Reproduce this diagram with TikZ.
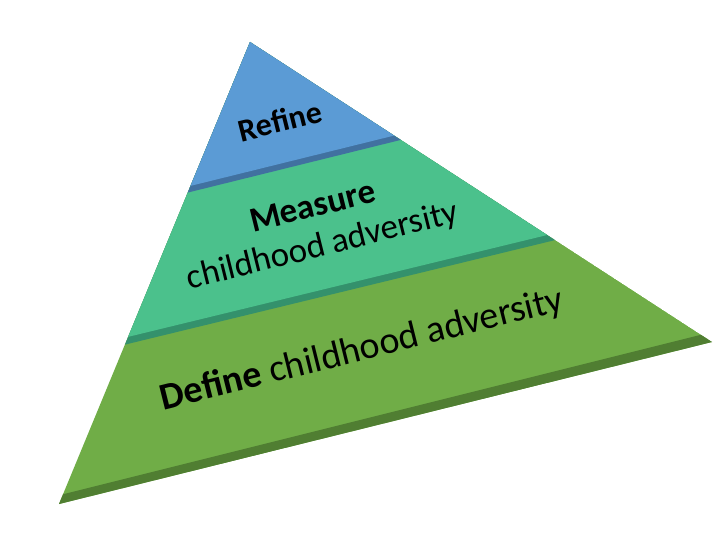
\documentclass[tikz,border=0pt]{standalone}
\usepackage{fontspec}
\setmainfont{Carlito}
\begin{document}
\begin{tikzpicture}[x=1pt,y=-1pt,
  lbl/.style={inner sep=0pt,rotate=14,text=black,align=center}]
\definecolor{cblue}{RGB}{91,155,213}
\definecolor{cblued}{RGB}{65,113,160}
\definecolor{cteal}{RGB}{75,193,140}
\definecolor{cteald}{RGB}{52,145,108}
\definecolor{cgreen}{RGB}{112,173,71}
\definecolor{cgreend}{RGB}{80,126,50}
\useasboundingbox (0,0) rectangle (720,540);
\fill[white] (0,0) rectangle (720,540);
\coordinate (A) at (250,42);
\coordinate (BL) at (59,504);
\coordinate (BR) at (712,342);
\begin{scope}
\clip (A) -- (BL) -- (BR) -- cycle;
% bottom layer
\fill[cgreen] (A) -- (BL) -- (BR) -- cycle;
% bottom band
\fill[cgreend] (0,510) -- (720,330) -- (720,360) -- (0,540) -- cycle;
% middle layer (teal) with its band
\fill[cteald] (0,0) -- (720,0) -- (720,200) -- (0,375) -- cycle;
\fill[cteal] (0,0) -- (720,0) -- (720,193) -- (0,368) -- cycle;
% top layer (blue) with its band
\fill[cblued] (0,0) -- (720,0) -- (720,61) -- (0,239) -- cycle;
\fill[cblue] (0,0) -- (720,0) -- (720,55) -- (0,233) -- cycle;
\end{scope}
\node[lbl,font=\fontsize{32}{34}\selectfont\bfseries] (refine) at (280,121) {Refine};
\node[lbl,font=\fontsize{35}{40}\selectfont] (measure) at (318,228) {\textbf{Measure}\\childhood adversity};
\node[lbl,font=\fontsize{38}{40}\selectfont] (define) at (362,350) {\textbf{Define} childhood adversity};
\end{tikzpicture}
\end{document}
